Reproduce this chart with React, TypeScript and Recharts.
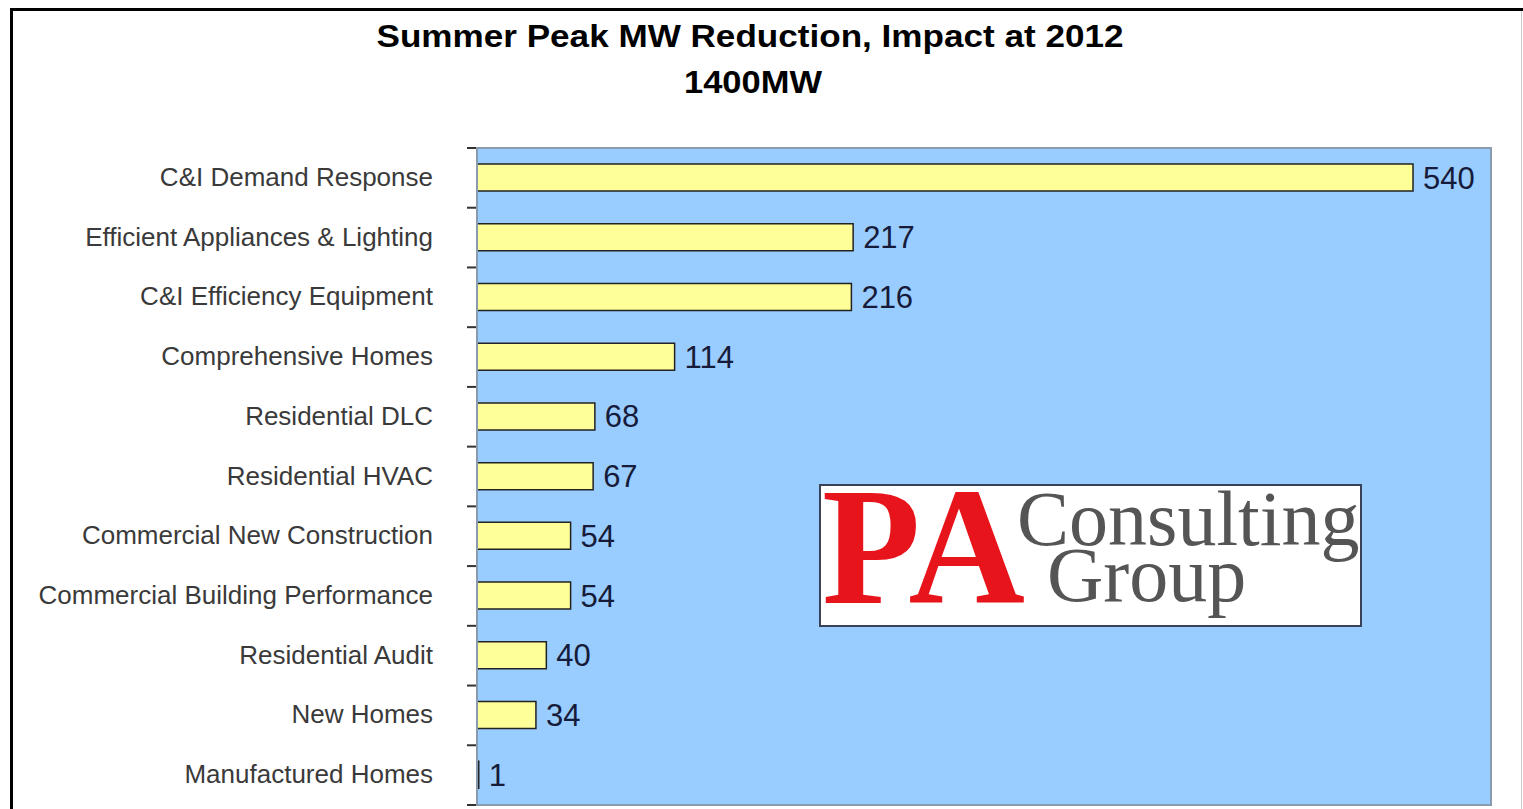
import React from 'react';
import { Bar, BarChart, CartesianGrid, LabelList, XAxis, YAxis } from 'recharts';

const categories = [
    'C&I Demand Response',
    'Efficient Appliances & Lighting',
    'C&I Efficiency Equipment',
    'Comprehensive Homes',
    'Residential DLC',
    'Residential HVAC',
    'Commercial New Construction',
    'Commercial Building Performance',
    'Residential Audit',
    'New Homes',
    'Manufactured Homes',
];
const reductionMW = [540, 217, 216, 114, 68, 67, 54, 54, 40, 34, 1];
const titleLines = ['Summer Peak MW Reduction, Impact at 2012', '1400MW'];
const logoWords = ['PA', 'Consulting', 'Group'];

const data = categories.map((name, i) => ({ name, mw: reductionMW[i] }));

const W = 1523;
const H = 809;
const margin = { top: 148, right: 32, bottom: 4, left: 0 };
const axisWidth = 477;
const band = (H - margin.top - margin.bottom) / categories.length;
const sans = '"Liberation Sans", Arial, sans-serif';
const serif = '"Liberation Serif", "Times New Roman", serif';

const CategoryTick = (props: any) => {
    const { x, y, payload, index } = props;
    const axisX = x + 44;
    return (
        <g>
            <line x1={axisX - 10} x2={axisX} y1={y - band / 2} y2={y - band / 2} stroke="#333" strokeWidth={2} />
            {index === categories.length - 1 && (
                <line x1={axisX - 10} x2={axisX} y1={y + band / 2} y2={y + band / 2} stroke="#333" strokeWidth={2} />
            )}
            <text x={x} y={y} dy={8} textAnchor="end" fontSize={26} fill="#3a3a3a" fontFamily={sans}>
                {payload.value}
            </text>
        </g>
    );
};

const App: React.FC = () => {
    return (
        <div style={{ position: 'relative', width: W, height: H, background: '#fff' }}>
            <style>{`body{margin:0;overflow:hidden}`}</style>
            <BarChart width={W} height={H} data={data} layout="vertical" margin={margin}>
                <CartesianGrid horizontal={false} vertical={false} fill="#99CCFF" />
                <XAxis type="number" domain={[0, 585]} hide allowDataOverflow />
                <YAxis
                    type="category"
                    dataKey="name"
                    width={axisWidth}
                    interval={0}
                    tickSize={10}
                    tickMargin={34}
                    tickLine={false}
                    tick={<CategoryTick />}
                    axisLine={{ stroke: '#333', strokeWidth: 2 }}
                />
                <Bar dataKey="mw" barSize={27} fill="#FFFF99" stroke="#222" strokeWidth={1.5} isAnimationActive={false}>
                    <LabelList
                        dataKey="mw"
                        position="right"
                        offset={10}
                        fontSize={31}
                        fill="#161b3a"
                        fontFamily={sans}
                    />
                </Bar>
            </BarChart>
            <svg width={W} height={H} style={{ position: 'absolute', left: 0, top: 0, pointerEvents: 'none' }}>
                {/* plot frame */}
                <rect x={477} y={148} width={1014} height={657} fill="none" stroke="#8a9bb0" strokeWidth={2} />
                {/* outer border */}
                <line x1={11.5} y1={9.5} x2={W} y2={9.5} stroke="#000" strokeWidth={3} />
                <line x1={11.5} y1={8} x2={11.5} y2={H} stroke="#000" strokeWidth={3} />
                <line x1={1521.5} y1={11} x2={1521.5} y2={H} stroke="#ccc" strokeWidth={1} />
                {/* title */}
                <text x={750} y={47} textAnchor="middle" fontSize={31} fontWeight="bold" fontFamily={sans} fill="#000"
                    textLength={747} lengthAdjust="spacingAndGlyphs">
                    {titleLines[0]}
                </text>
                <text x={753} y={93} textAnchor="middle" fontSize={31} fontWeight="bold" fontFamily={sans} fill="#000"
                    textLength={138} lengthAdjust="spacingAndGlyphs">
                    {titleLines[1]}
                </text>
                {/* logo */}
                <rect x={820} y={485} width={541} height={141} fill="#fff" stroke="#3a4258" strokeWidth={2} />
                <text x={822} y={603} fontSize={168} fontWeight="bold" fontFamily={serif} fill="#e8141c"
                    textLength={203} lengthAdjust="spacingAndGlyphs">
                    {logoWords[0]}
                </text>
                <text fontSize={78} fontFamily={serif} fill="#555">
                    <tspan x={1017} y={545}>{logoWords[1]}</tspan>
                    <tspan x={1047} y={601}>{logoWords[2]}</tspan>
                </text>
            </svg>
        </div>
    );
};

export default App;
